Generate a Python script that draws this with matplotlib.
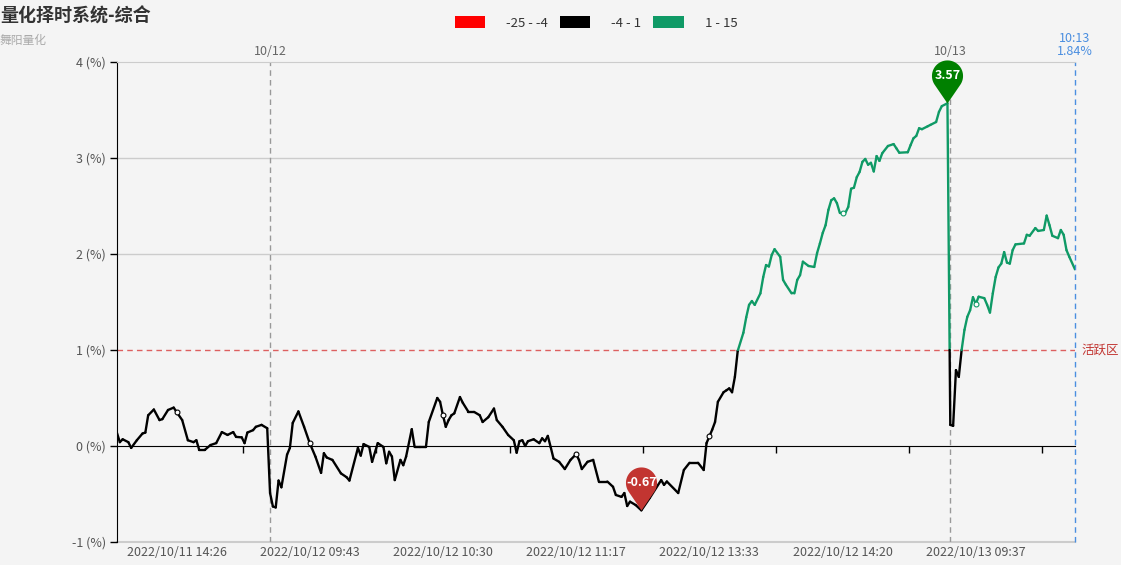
import numpy as np
import matplotlib.pyplot as plt
from matplotlib.collections import LineCollection
from matplotlib.patches import Patch
from matplotlib.path import Path

plt.rcParams['font.family'] = ['Noto Sans CJK SC', 'DejaVu Sans']

# minutes since the first point (trading minutes) and the value in %
minutes = [0, 1, 2, 4, 5, 7, 9, 10, 11, 13, 15, 16, 18, 20, 21, 23, 25, 27, 28, 29,
           31, 33, 35, 37, 39, 41, 42, 44, 45, 46, 48, 49, 51, 53, 54, 55, 56, 57, 58, 60,
           61, 62, 64, 66, 68, 70, 72, 73, 74, 76, 79, 81, 82, 85, 86, 87, 89, 90, 92, 94,
           95, 96, 97, 98, 100, 101, 102, 104, 105, 107, 109, 110, 113, 114, 115, 116, 117, 118, 119, 121,
           122, 124, 126, 128, 129, 131, 133, 134, 136, 138, 140, 141, 142, 143, 144, 145, 147, 149, 150, 151,
           152, 153, 154, 156, 158, 160, 162, 163, 164, 166, 168, 170, 173, 175, 176, 178, 179, 180, 181, 183,
           185, 188, 192, 193, 194, 198, 200, 202, 205, 207, 208, 210, 211, 212, 214, 215, 216, 217, 218, 219,
           221, 222, 223, 224, 225, 227, 228, 229, 230, 231, 232, 234, 235, 236, 238, 239, 240, 241, 242, 244,
           246, 247, 248, 249, 250, 251, 252, 253, 254, 255, 257, 258, 259, 260, 261, 262, 263, 264, 265, 266,
           267, 268, 269, 270, 272, 274, 275, 276, 279, 280, 281, 282, 283, 284, 286, 287, 289, 290, 291, 293,
           294, 295, 296, 297, 298, 299, 300, 301, 302, 303, 304, 306, 307, 308, 309, 310, 311, 312, 313, 314,
           315, 316, 317, 320, 321, 322, 324, 325, 327, 328, 329, 330, 332, 333, 334, 335, 336, 338]
values = [0.135, 0.04, 0.07, 0.04, -0.02, 0.06, 0.13, 0.14, 0.32, 0.38, 0.27, 0.28, 0.375, 0.40, 0.355, 0.27, 0.06, 0.04, 0.06, -0.04,
          -0.04, 0.01, 0.03, 0.145, 0.115, 0.145, 0.095, 0.09, 0.03, 0.14, 0.165, 0.20, 0.22, 0.185, -0.49, -0.63, -0.64, -0.36, -0.43, -0.09,
          -0.02, 0.24, 0.36, 0.20, 0.03, -0.11, -0.28, -0.075, -0.12, -0.145, -0.285, -0.325, -0.36, -0.02, -0.10, 0.02, -0.01, -0.165, 0.03, -0.01,
          -0.18, -0.06, -0.11, -0.355, -0.145, -0.20, -0.11, 0.175, -0.01, -0.01, -0.01, 0.25, 0.50, 0.46, 0.32, 0.20, 0.27, 0.32, 0.34, 0.51,
          0.45, 0.355, 0.355, 0.32, 0.25, 0.30, 0.39, 0.27, 0.20, 0.115, 0.06, -0.07, 0.05, 0.06, 0.0, 0.05, 0.07, 0.03, 0.08, 0.05,
          0.105, -0.01, -0.13, -0.165, -0.24, -0.145, -0.085, -0.145, -0.24, -0.165, -0.145, -0.37, -0.37, -0.425, -0.51, -0.53, -0.49, -0.625, -0.58, -0.615,
          -0.67, -0.54, -0.355, -0.405, -0.37, -0.49, -0.25, -0.175, -0.175, -0.25, 0.03, 0.17, 0.25, 0.46, 0.56, 0.58, 0.60, 0.56, 0.72, 0.99,
          1.18, 1.34, 1.47, 1.51, 1.47, 1.59, 1.76, 1.885, 1.87, 1.99, 2.05, 1.97, 1.73, 1.68, 1.59, 1.59, 1.73, 1.78, 1.92, 1.875,
          1.865, 2.01, 2.11, 2.22, 2.30, 2.46, 2.56, 2.58, 2.53, 2.43, 2.43, 2.49, 2.68, 2.69, 2.80, 2.855, 2.96, 2.99, 2.93, 2.95,
          2.86, 3.02, 2.97, 3.05, 3.125, 3.145, 3.10, 3.055, 3.06, 3.135, 3.205, 3.23, 3.31, 3.30, 3.33, 3.345, 3.375, 3.48, 3.54, 3.57,
          0.22, 0.21, 0.79, 0.72, 1.00, 1.21, 1.345, 1.415, 1.55, 1.48, 1.555, 1.54, 1.47, 1.39, 1.59, 1.76, 1.86, 1.90, 2.02, 1.91,
          1.90, 2.04, 2.10, 2.11, 2.20, 2.19, 2.27, 2.24, 2.25, 2.40, 2.30, 2.19, 2.165, 2.25, 2.20, 2.04, 1.97, 1.84]

tick_pos = [21, 68, 115, 162, 209, 256, 303]
tick_labels = ['2022/10/11 14:26', '2022/10/12 09:43', '2022/10/12 10:30', '2022/10/12 11:17',
               '2022/10/12 13:33', '2022/10/12 14:20', '2022/10/13 09:37']
day_starts = [54, 294]
day_labels = ['10/12', '10/13']
last_time = '10:13'
active_level = 1

piece_bounds = [(-25, -4), (-4, 1), (1, 15)]
piece_colors = ['#ff0000', '#000000', '#0f9a66']
piece_labels = ['-25 - -4', '-4 - 1', '1 - 15']

bg = '#f4f4f4'
x = np.array(minutes, dtype=float)
y = np.array(values, dtype=float)


def color_of(v):
    for (lo, hi), c in zip(piece_bounds, piece_colors):
        if lo <= v <= hi:
            return c
    return piece_colors[-1]


# split line where it crosses a piece boundary so each part gets its colour
cuts = sorted(set(b for pair in piece_bounds for b in pair))
segs, cols = [], []
for i in range(len(x) - 1):
    x0, y0, x1, y1 = x[i], y[i], x[i + 1], y[i + 1]
    pts = [(x0, y0)]
    inner = [c for c in cuts if min(y0, y1) < c < max(y0, y1)]
    inner.sort(reverse=(y1 < y0))
    for c in inner:
        t = (c - y0) / (y1 - y0)
        pts.append((x0 + t * (x1 - x0), c))
    pts.append((x1, y1))
    for a, b in zip(pts[:-1], pts[1:]):
        segs.append([a, b])
        cols.append(color_of((a[1] + b[1]) / 2))

fig = plt.figure(figsize=(11.21, 5.65), dpi=100, facecolor=bg)
ax = fig.add_axes([117 / 1121, 23 / 565, 958 / 1121, 480 / 565], facecolor=bg)
ax.set_xlim(0, x[-1])
ax.set_ylim(-1, 4)

for lv in [2, 3]:
    ax.axhline(lv, color='#cccccc', lw=1, zorder=1)
ax.axhline(-1, color='#cccccc', lw=1.5, zorder=1, clip_on=False)
ax.axhline(active_level, color='#dd6060', lw=1, ls=(0, (4, 3)), zorder=2)
ax.annotate('活跃区', (1, active_level), xycoords=('axes fraction', 'data'), xytext=(5, 0),
            textcoords='offset points', ha='left', va='center', color='#c23531', fontsize=9,
            annotation_clip=False)

for d, lab in zip(day_starts, day_labels):
    ax.axvline(d, color='#999999', lw=1, ls=(0, (4, 3)), zorder=1)
    ax.annotate(lab, (d, 4), xytext=(0, 3), textcoords='offset points', ha='center', va='bottom',
                color='#666666', fontsize=9, annotation_clip=False)
ax.axvline(x[-1], color='#4a8ee0', lw=1, ls=(0, (4, 3)), zorder=1, clip_on=False)
ax.annotate(f'{last_time}\n{y[-1]:.2f}%', (x[-1], 4), xytext=(0, 3), textcoords='offset points',
            ha='center', va='bottom', color='#4a8ee0', fontsize=9, linespacing=1.0,
            annotation_clip=False)

lc = LineCollection(segs, colors=cols, linewidths=1.7, zorder=4, capstyle='round', joinstyle='round')
ax.add_collection(lc)

# small hollow symbols at label positions
sym_y = np.interp(tick_pos, x, y)
for px, py in zip(tick_pos, sym_y):
    ax.plot(px, py, 'o', ms=3.5, mfc='white', mec=color_of(py), mew=0.8, zorder=5)

# pin markers for max / min
r, c = 1.0, 1.77
phi = np.arccos(r / c)
t = np.linspace(-np.pi / 2 + phi, 3 * np.pi / 2 - phi, 60)
verts = [(0, 0)] + [(np.cos(a), c + np.sin(a)) for a in t] + [(0, 0)]
codes = [Path.MOVETO] + [Path.LINETO] * (len(verts) - 2) + [Path.CLOSEPOLY]
pin = Path(verts, codes)
imax, imin = int(np.argmax(y)), int(np.argmin(y))
for idx, pc in [(imax, '#008000'), (imin, '#c23531')]:
    ax.plot(x[idx], y[idx], marker=pin, ms=62, color=pc, mec='none', zorder=6, clip_on=False)
    ax.annotate(f'{y[idx]:.2f}', (x[idx], y[idx]), xytext=(0, 19.8), textcoords='offset points',
                ha='center', va='center', color='white', fontsize=9, fontweight='bold', zorder=7,
                annotation_clip=False)

# axes styling
ax.spines['right'].set_visible(False)
ax.spines['top'].set_color('#cccccc')
ax.spines['left'].set_color('black')
ax.spines['bottom'].set_position(('data', 0))
ax.spines['bottom'].set_color('black')
ax.set_yticks([-1, 0, 1, 2, 3, 4])
ax.set_yticklabels([f'{v} (%)' for v in [-1, 0, 1, 2, 3, 4]])
ax.tick_params(axis='y', length=5, width=1, colors='black', labelcolor='#555555', labelsize=9, pad=3)
ax.set_xticks([p + 23.5 for p in tick_pos])
ax.tick_params(axis='x', length=5, width=1, colors='black', labelbottom=False)
for p, lab in zip(tick_pos, tick_labels):
    ax.annotate(lab, (p, -1), xytext=(0, -3), textcoords='offset points', ha='center', va='top',
                color='#555555', fontsize=9, annotation_clip=False)

fig.text(0.0, 1 - 16 / 565, '量化择时系统-综合', ha='left', va='center', fontsize=13,
         fontweight='bold', color='#333333')
fig.text(0.0, 1 - 40 / 565, '舞阳量化', ha='left', va='center', fontsize=8.5, color='#aaaaaa')

handles = [Patch(facecolor=pc, edgecolor='none') for pc in piece_colors]
fig.legend(handles, piece_labels, loc='center', bbox_to_anchor=(596 / 1121, 1 - 23 / 565), ncol=3,
           frameon=False, fontsize=9.5, handlelength=2.3, handleheight=1.0, handletextpad=1.6,
           columnspacing=0.9, labelcolor='#333333')

fig.savefig('out.png', dpi=100, facecolor=bg)
